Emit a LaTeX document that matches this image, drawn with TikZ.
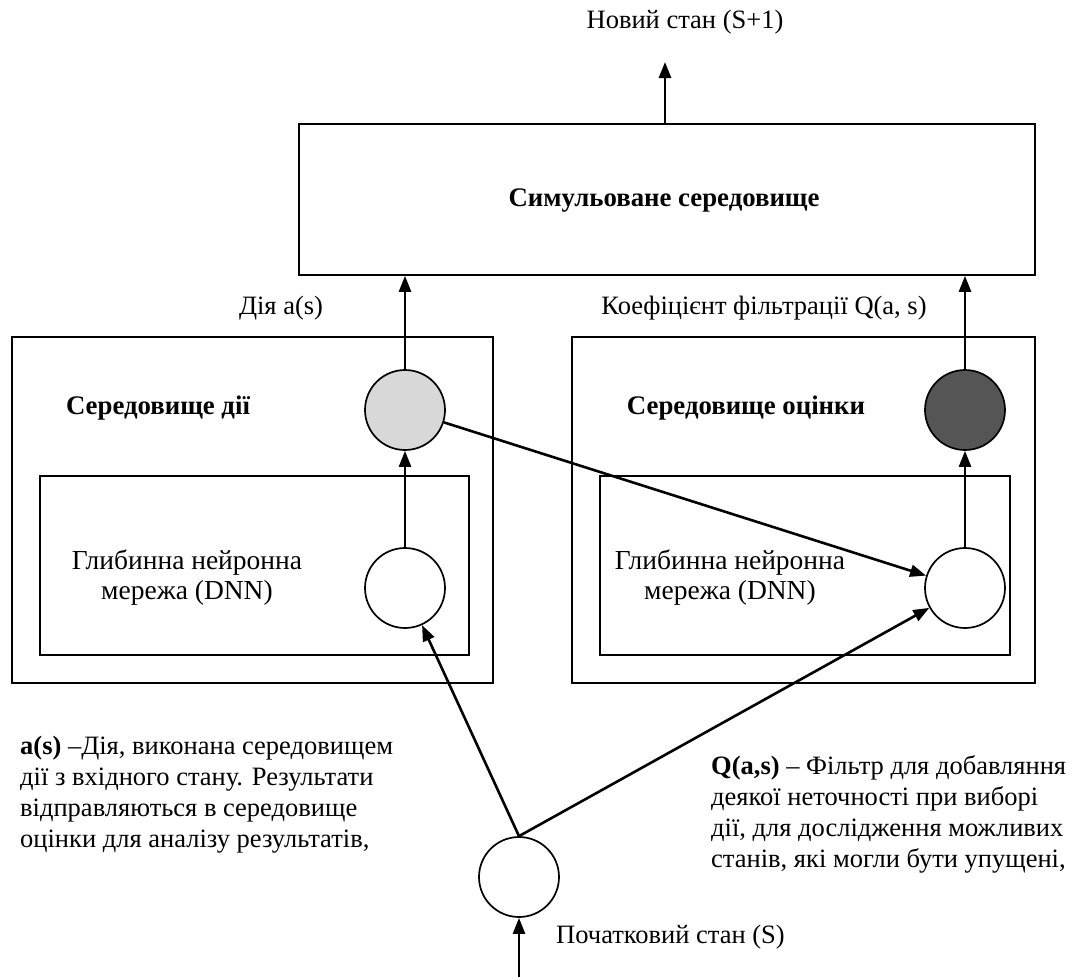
\documentclass[tikz,border=0pt]{standalone}
\usepackage{fontspec}
\setmainfont{Liberation Serif}
\usetikzlibrary{arrows.meta}
\definecolor{lightfill}{RGB}{216,216,216}
\definecolor{darkfill}{RGB}{85,85,85}
\begin{document}
\begin{tikzpicture}[x=1pt,y=-1pt,
  every node/.style={font=\fontsize{26.5}{31}\selectfont, inner sep=0pt},
  box/.style={draw, line width=1.7pt},
  neuron/.style={draw, circle, line width=1.7pt, minimum size=80pt, fill=white},
  arr/.style={line width=2.6pt, -{Triangle[length=16pt,width=12pt]}},
  lbl/.style={font=\fontsize{26.5}{31}\selectfont},
  dnnlbl/.style={font=\fontsize{27.5}{30}\selectfont},
  ttl/.style={font=\fontsize{26.8}{31}\selectfont\bfseries}]
\useasboundingbox (0,0) rectangle (1082,977);
% boxes
\node[box, minimum width=736pt, minimum height=151pt] (sim) at (667,199.5) {};
\node[box, minimum width=481pt, minimum height=346pt] (actbox) at (252.5,510) {};
\node[box, minimum width=429pt, minimum height=179pt] (actdnn) at (254.5,565.5) {};
\node[box, minimum width=463pt, minimum height=346pt] (evalbox) at (803.5,510) {};
\node[box, minimum width=410pt, minimum height=179pt] (evaldnn) at (805,565.5) {};
% neurons
\node[neuron, fill=lightfill] (ga) at (405,410) {};
\node[neuron] (wa) at (405,588) {};
\node[neuron, fill=darkfill] (gq) at (965,410) {};
\node[neuron] (wq) at (965,588) {};
\node[neuron] (s) at (519,877) {};
% labels
\node[ttl] (simtitle) at (664,201) {Симульоване середовище};
\node[lbl] (newstate) at (685,22) {Новий стан (S+1)};
\node[lbl] (actlbl) at (281,308) {Дія a(s)};
\node[lbl] (qlbl) at (764,308) {Коефіцієнт фільтрації Q(a, s)};
\node[ttl] (acttitle) at (158,408) {Середовище дії};
\node[ttl] (evaltitle) at (746,408) {Середовище оцінки};
\node[dnnlbl, align=center] (dnn1) at (187,578) {Глибинна нейронна\\мережа (DNN)};
\node[dnnlbl, align=center] (dnn2) at (730,578) {Глибинна нейронна\\мережа (DNN)};
\node[lbl, anchor=base west] (startlbl) at (556,943) {Початковий стан (S)};
\node[lbl, align=left, anchor=north west] (ldesc) at (20,736) {\textbf{a(s)} –Дія, виконана середовищем\\дії з вхідного стану. Результати\\відправляються в середовище\\оцінки для аналізу результатів,};
\node[lbl, align=left, anchor=north west] (rdesc) at (711,755) {\textbf{Q(a,s)} – Фільтр для добавляння\\деякої неточності при виборі\\дії, для дослідження можливих\\станів, які могли бути упущені,};
% connectors
\coordinate (out) at (665,62);
\coordinate (in) at (519,977);
\draw[arr] (sim.north -| out) -- (out);
\draw[arr] (in) -- (s);
\draw[arr] (wa) -- (ga);
\draw[arr] (ga) -- (ga |- sim.south);
\draw[arr] (wq) -- (gq);
\draw[arr] (gq) -- (gq |- sim.south);
\draw[arr] (ga) -- (wq);
\draw[arr] (s.north) -- (wa);
\draw[arr] (s.north) -- (wq);
\end{tikzpicture}
\end{document}
